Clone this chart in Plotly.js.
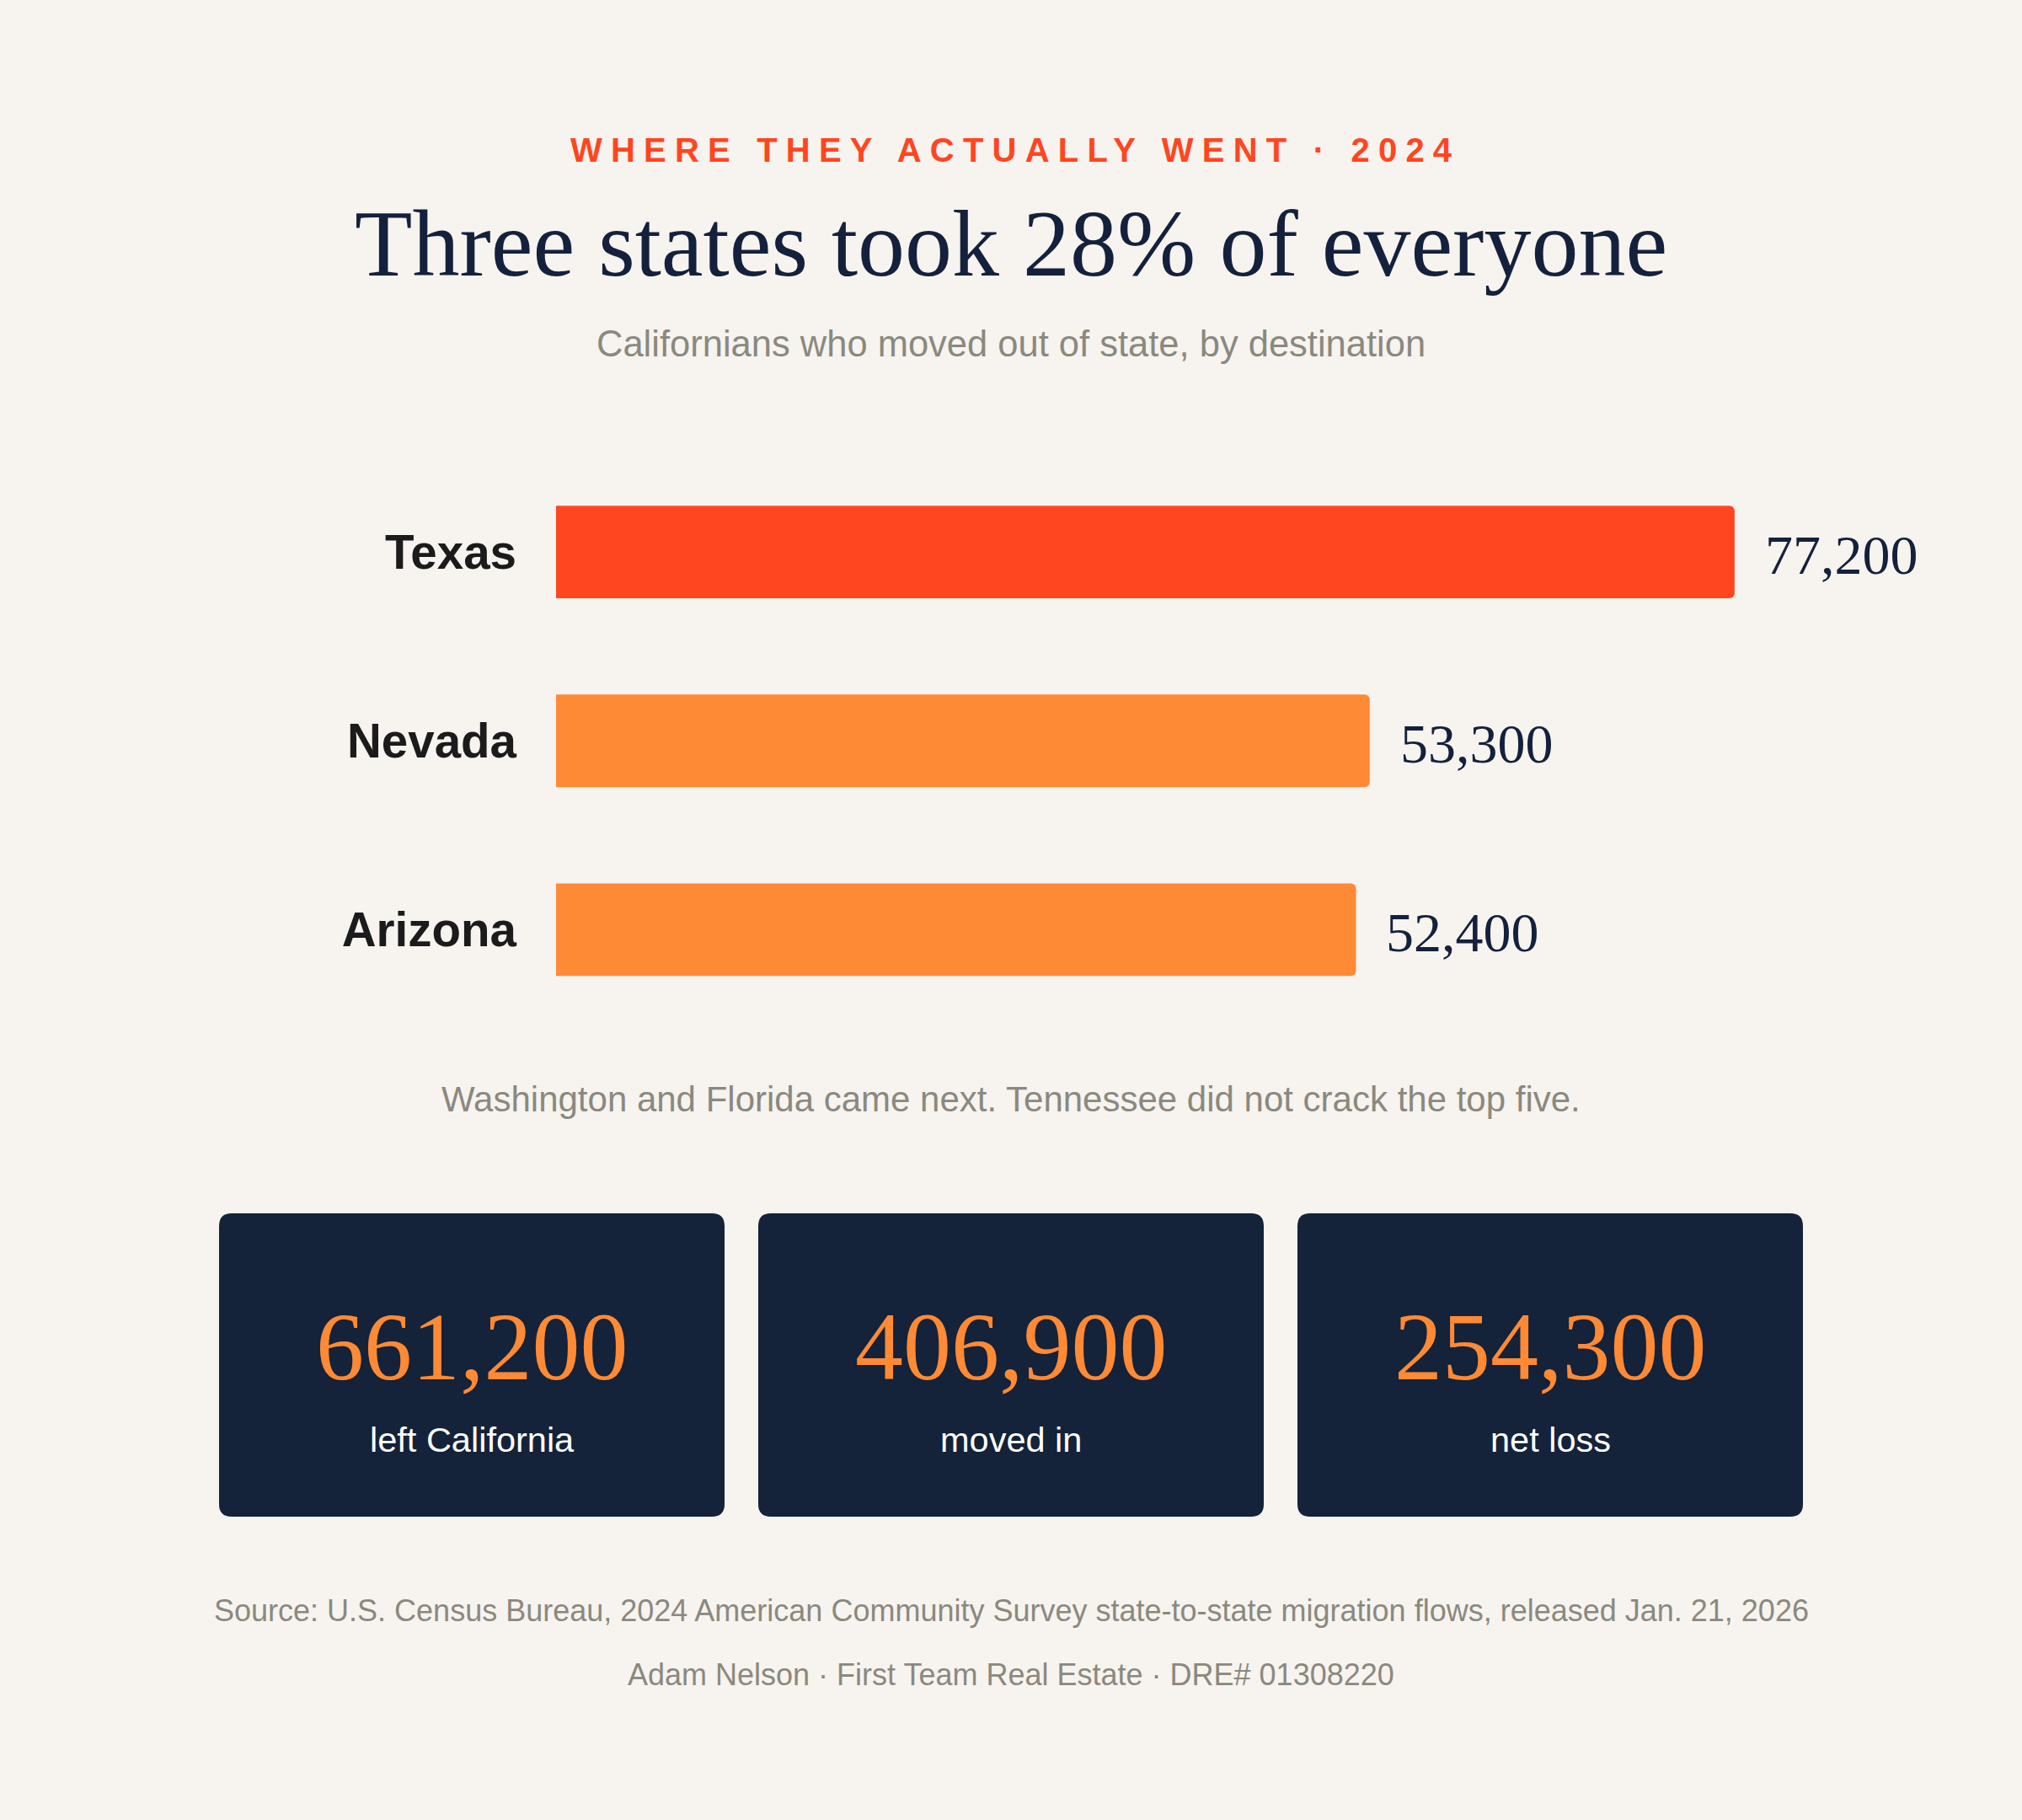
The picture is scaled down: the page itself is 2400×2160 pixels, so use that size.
<!DOCTYPE html>
<html>
<head>
<meta charset="utf-8">
<script src="https://cdn.plot.ly/plotly-3.0.1.min.js"></script>
<style>
  html, body { margin: 0; padding: 0; background: #F7F3EF; }
  #chart { width: 2400px; height: 2160px; }
  text[data-unformatted^="WHERE THEY"] { letter-spacing: 10.2px; }
</style>
</head>
<body>
<div id="chart"></div>
<script>
// ---- data ----
const states = ["Texas", "Nevada", "Arizona"];
const movers = [77200, 53300, 52400];
const cardValues = [661200, 406900, 254300];
const cardLabels = ["left California", "moved in", "net loss"];

const kicker = "WHERE THEY ACTUALLY WENT \u00B7 2024";
const titleText = "Three states took 28% of everyone";
const subtitleText = "Californians who moved out of state, by destination";
const noteText = "Washington and Florida came next. Tennessee did not crack the top five.";
const sourceText = "Source: U.S. Census Bureau, 2024 American Community Survey state-to-state migration flows, released Jan. 21, 2026";
const creditText = "Adam Nelson \u00B7 First Team Real Estate \u00B7 DRE# 01308220";

// ---- styles ----
const W = 2400, H = 2160;
const BG = "#F7F3EF";
const RED = "#FF4620";
const ORANGE = "#FF8A35";
const NAVY = "#14223A";
const GRAY = "#8A897E";
const SERIF = "Liberation Serif, DejaVu Serif, serif";
const SANS = "Liberation Sans, Arial, sans-serif";

const px = v => v / W;
const py = v => 1 - v / H;
const fmt = n => n.toLocaleString("en-US");

const barColors = states.map((s, i) => i === 0 ? RED : ORANGE);

const trace = {
  type: "bar",
  orientation: "h",
  x: movers,
  y: states,
  marker: { color: barColors, line: { width: 0 } },
  hoverinfo: "skip",
  showlegend: false
};

const annotations = [];
function addText(text, xPix, yPix, size, color, family, weight) {
  annotations.push({
    xref: "paper", yref: "paper",
    x: px(xPix), y: py(yPix),
    xanchor: "center", yanchor: "middle",
    text: text, showarrow: false,
    font: { size: size, color: color, family: family, weight: weight || 400 }
  });
}
addText(kicker, 1205, 178, 40, RED, SANS, 700);
addText(titleText, 1200, 289, 112, "#14213D", SERIF, 400);
addText(subtitleText, 1200, 408, 43.5, GRAY, SANS, 400);
addText(noteText, 1200, 1304, 42, GRAY, SANS, 400);
addText(sourceText, 1200, 1911, 36, GRAY, SANS, 400);
addText(creditText, 1200, 1987, 36, GRAY, SANS, 400);

// value labels via data axes
states.forEach((s, i) => {
  annotations.push({
    xref: "x", yref: "y",
    x: movers[i], y: s,
    xanchor: "left", yanchor: "middle",
    xshift: 34, yshift: -3,
    text: fmt(movers[i]), showarrow: false,
    font: { size: 66, color: "#14213D", family: SERIF }
  });
});

// cards
const cardBoxes = [[260, 860], [900, 1500], [1540, 2140]];
const cardTop = 1440, cardBottom = 1800, rad = 15;
const shapes = [];
cardBoxes.forEach((b, i) => {
  const x0 = px(b[0]), x1 = px(b[1]);
  const y0 = py(cardTop), y1 = py(cardBottom);
  const rx = rad / W, ry = rad / H;
  const path = `M ${x0 + rx} ${y0} L ${x1 - rx} ${y0} Q ${x1} ${y0} ${x1} ${y0 - ry} ` +
    `L ${x1} ${y1 + ry} Q ${x1} ${y1} ${x1 - rx} ${y1} ` +
    `L ${x0 + rx} ${y1} Q ${x0} ${y1} ${x0} ${y1 + ry} ` +
    `L ${x0} ${y0 - ry} Q ${x0} ${y0} ${x0 + rx} ${y0} Z`;
  shapes.push({ type: "path", xref: "paper", yref: "paper", path: path,
    fillcolor: NAVY, line: { width: 0 }, layer: "below" });
  const cx = (b[0] + b[1]) / 2;
  addText(fmt(cardValues[i]), cx, 1598, 114, ORANGE, SERIF, 400);
  addText(cardLabels[i], cx, 1708, 41.5, "#FFFFFF", SANS, 400);
});

const layout = {
  width: W, height: H,
  margin: { l: 0, r: 0, t: 0, b: 0, pad: 0 },
  paper_bgcolor: BG,
  plot_bgcolor: "rgba(0,0,0,0)",
  showlegend: false,
  bargap: 0.51,
  barcornerradius: 6,
  xaxis: {
    domain: [660 / W, 2260 / W],
    range: [0, 88300],
    visible: false, fixedrange: true
  },
  yaxis: {
    domain: [py(1215.5), py(543)],
    type: "category",
    categoryorder: "array",
    categoryarray: states,
    autorange: "reversed",
    showgrid: false, zeroline: false, showline: false,
    ticks: "", ticklabelstandoff: 46,
    tickfont: { family: SANS, size: 56.5, color: "#1B1B1B", weight: 700 },
    automargin: false, fixedrange: true
  },
  annotations: annotations,
  shapes: shapes,
  hovermode: false
};

Plotly.newPlot("chart", [trace], layout, { displayModeBar: false, staticPlot: true });
</script>
</body>
</html>
